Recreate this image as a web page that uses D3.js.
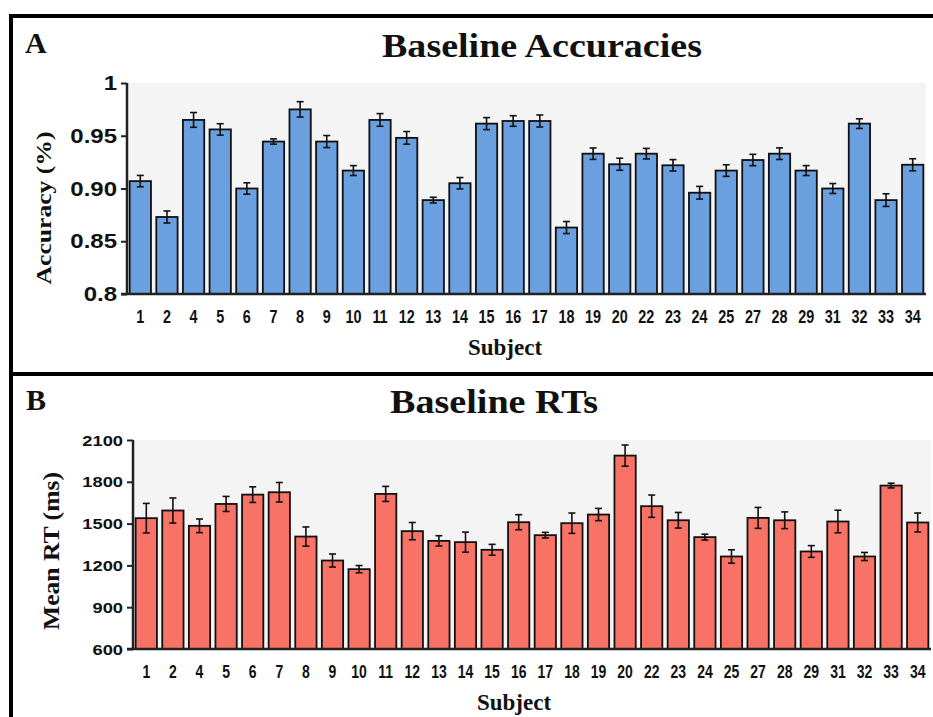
<!DOCTYPE html>
<html>
<head>
<meta charset="utf-8">
<script src="https://cdn.jsdelivr.net/npm/d3@7"></script>
<style>
  body { margin: 0; background: #fff; }
  svg { display: block; }
</style>
</head>
<body>
<div id="chart"></div>
<script>
// subjects shown on the x axis (some ids are missing in the source)
const subjects = [1, 2, 4, 5, 6, 7, 8, 9, 10, 11, 12, 13, 14, 15, 16, 17, 18, 19, 20,
  22, 23, 24, 25, 27, 28, 29, 31, 32, 33, 34];

// panel A: baseline accuracy (mean, +/- error)
const accMeans = [0.907, 0.873, 0.965, 0.956, 0.900, 0.9445, 0.975, 0.9445, 0.917, 0.965,
  0.948, 0.889, 0.905, 0.9615, 0.964, 0.964, 0.863, 0.933, 0.923, 0.933,
  0.922, 0.896, 0.917, 0.927, 0.933, 0.917, 0.900, 0.9615, 0.889, 0.9225];
const accErrors = [0.0054, 0.0057, 0.007, 0.0054, 0.0054, 0.0025, 0.0073, 0.0057, 0.0047, 0.006,
  0.006, 0.0027, 0.0054, 0.0057, 0.005, 0.0057, 0.0057, 0.0054, 0.0057, 0.005,
  0.0054, 0.006, 0.0055, 0.0054, 0.0055, 0.0047, 0.0047, 0.0046, 0.006, 0.0057];
const accTicks = [0.8, 0.85, 0.9, 0.95, 1];
const accTickLabels = ['0.8', '0.85', '0.90', '0.95', '1'];

// panel B: baseline mean RT in ms (mean, +/- error)
const rtMeans = [1539, 1594, 1484, 1641, 1708, 1725, 1407, 1235, 1173, 1713,
  1446, 1376, 1367, 1312, 1510, 1417, 1503, 1565, 1988, 1625,
  1524, 1403, 1264, 1541, 1524, 1300, 1515, 1264, 1773, 1508];
const rtErrors = [106, 90, 49, 54, 56, 70, 69, 47, 26, 54,
  62, 37, 72, 39, 54, 20, 73, 44, 76, 80,
  56, 21, 48, 75, 60, 42, 81, 29, 17, 68];
const rtTicks = [600, 900, 1200, 1500, 1800, 2100];
const rtTickLabels = ['600', '900', '1200', '1500', '1800', '2100'];

const width = 933;
const height = 717;
const serif = '"Liberation Serif", "DejaVu Serif", serif';
const sans = '"Liberation Sans", Arial, sans-serif';

const svg = d3.select('#chart')
  .append('svg')
  .attr('width', width)
  .attr('height', height);

svg.append('rect')
  .attr('width', width)
  .attr('height', height)
  .attr('fill', '#fff');

// frame lines around the two panels
svg.append('line')
  .attr('x1', 9).attr('x2', width)
  .attr('y1', 16).attr('y2', 16)
  .attr('stroke', '#000').attr('stroke-width', 4);
svg.append('line')
  .attr('x1', 9).attr('x2', width)
  .attr('y1', 374).attr('y2', 374)
  .attr('stroke', '#000').attr('stroke-width', 4);
svg.append('line')
  .attr('x1', 11).attr('x2', 11)
  .attr('y1', 14).attr('y2', height)
  .attr('stroke', '#000').attr('stroke-width', 4);

// text squeezed or widened horizontally, like the source raster
function stretchedText(parent, x, y, str, opts) {
  return parent.append('text')
    .attr('transform', `translate(${x},${y}) scale(${opts.sx || 1},1)`)
    .attr('text-anchor', opts.anchor || 'middle')
    .attr('font-family', opts.family || sans)
    .attr('font-weight', 'bold')
    .attr('font-size', opts.size)
    .attr('fill', '#111')
    .text(str);
}

function drawPanel(p) {
  const g = svg.append('g');

  const x = d3.scaleBand()
    .domain(subjects)
    .range(p.xRange)
    .paddingInner(0.2)
    .paddingOuter(0.1);

  const y = d3.scaleLinear()
    .domain(p.domain)
    .range(p.yRange);

  // panel letter and title
  g.append('text')
    .attr('x', p.letterX).attr('y', p.letterY)
    .attr('font-family', serif).attr('font-weight', 'bold')
    .attr('font-size', 30).attr('fill', '#111')
    .text(p.letter);

  g.append('text')
    .attr('x', p.titleX).attr('y', p.titleY)
    .attr('text-anchor', 'middle')
    .attr('font-family', serif).attr('font-weight', 'bold')
    .attr('font-size', 33).attr('fill', '#111')
    .attr('textLength', p.titleWidth)
    .attr('lengthAdjust', 'spacingAndGlyphs')
    .text(p.title);

  // plot background
  g.append('rect')
    .attr('x', p.xRange[0]).attr('y', p.yRange[1])
    .attr('width', p.xRange[1] - p.xRange[0])
    .attr('height', p.yRange[0] - p.yRange[1])
    .attr('fill', '#f4f4f4');

  // bars
  g.selectAll('.bar')
    .data(p.means)
    .enter()
    .append('rect')
    .attr('class', 'bar')
    .attr('x', (d, i) => x(subjects[i]))
    .attr('y', d => y(d))
    .attr('width', x.bandwidth())
    .attr('height', d => y(p.domain[0]) - y(d))
    .attr('fill', p.color)
    .attr('stroke', '#111')
    .attr('stroke-width', 1.8);

  // error bars
  const capHalf = 3.5;
  const err = g.selectAll('.err')
    .data(p.means)
    .enter()
    .append('g')
    .attr('class', 'err')
    .attr('stroke', '#111')
    .attr('stroke-width', 1.6);

  err.append('line')
    .attr('x1', (d, i) => x(subjects[i]) + x.bandwidth() / 2)
    .attr('x2', (d, i) => x(subjects[i]) + x.bandwidth() / 2)
    .attr('y1', (d, i) => y(d - p.errors[i]))
    .attr('y2', (d, i) => y(d + p.errors[i]));
  err.append('line')
    .attr('x1', (d, i) => x(subjects[i]) + x.bandwidth() / 2 - capHalf)
    .attr('x2', (d, i) => x(subjects[i]) + x.bandwidth() / 2 + capHalf)
    .attr('y1', (d, i) => y(d + p.errors[i]))
    .attr('y2', (d, i) => y(d + p.errors[i]));
  err.append('line')
    .attr('x1', (d, i) => x(subjects[i]) + x.bandwidth() / 2 - capHalf)
    .attr('x2', (d, i) => x(subjects[i]) + x.bandwidth() / 2 + capHalf)
    .attr('y1', (d, i) => y(d - p.errors[i]))
    .attr('y2', (d, i) => y(d - p.errors[i]));

  // y axis
  const yAxis = g.append('g')
    .attr('transform', `translate(${p.xRange[0]},0)`)
    .call(d3.axisLeft(y).tickValues(p.ticks).tickSize(6).tickFormat(''));
  yAxis.select('.domain')
    .attr('d', `M0,${p.yRange[0]}V${p.yRange[1]}`)
    .attr('stroke', '#222').attr('stroke-width', 2.5);
  yAxis.selectAll('.tick line').attr('stroke', '#222').attr('stroke-width', 2);

  p.ticks.forEach((t, i) => {
    stretchedText(g, p.xRange[0] - 10, y(t) + p.yTickSize * 0.36, p.tickLabels[i], {
      anchor: 'end', size: p.yTickSize, sx: p.yTickStretch,
    });
  });

  // x axis baseline
  g.append('line')
    .attr('x1', p.xRange[0] - 6).attr('x2', p.xRange[1])
    .attr('y1', p.yRange[0]).attr('y2', p.yRange[0])
    .attr('stroke', '#222').attr('stroke-width', 2.5);

  subjects.forEach(s => {
    stretchedText(g, x(s) + x.bandwidth() / 2, p.xTickY, String(s), {
      size: p.xTickSize, sx: 0.8,
    });
  });

  // axis titles
  g.append('text')
    .attr('x', p.xTitleX).attr('y', p.xTitleY)
    .attr('text-anchor', 'middle')
    .attr('font-family', serif).attr('font-weight', 'bold')
    .attr('font-size', 23).attr('fill', '#111')
    .text('Subject');

  g.append('text')
    .attr('transform', `translate(${p.yTitleX},${p.yTitleY}) rotate(-90)`)
    .attr('text-anchor', 'middle')
    .attr('font-family', serif).attr('font-weight', 'bold')
    .attr('font-size', p.yTitleSize).attr('fill', '#111')
    .attr('textLength', p.yTitleWidth)
    .attr('lengthAdjust', 'spacingAndGlyphs')
    .text(p.yTitle);
}

drawPanel({
  letter: 'A', letterX: 25, letterY: 53,
  title: 'Baseline Accuracies', titleX: 542, titleY: 57, titleWidth: 320,
  means: accMeans, errors: accErrors,
  domain: [0.8, 1], ticks: accTicks, tickLabels: accTickLabels,
  xRange: [127, 926], yRange: [294, 83],
  color: '#6a9fe0',
  yTickSize: 20, yTickStretch: 1.2, xTickSize: 18, xTickY: 323,
  xTitleX: 505, xTitleY: 355,
  yTitle: 'Accuracy (%)', yTitleX: 51, yTitleY: 208, yTitleSize: 21, yTitleWidth: 153,
});

drawPanel({
  letter: 'B', letterX: 26, letterY: 410,
  title: 'Baseline RTs', titleX: 494, titleY: 413, titleWidth: 208,
  means: rtMeans, errors: rtErrors,
  domain: [600, 2100], ticks: rtTicks, tickLabels: rtTickLabels,
  xRange: [133, 931], yRange: [649, 440],
  color: '#f87366',
  yTickSize: 15.5, yTickStretch: 1.18, xTickSize: 17.5, xTickY: 678,
  xTitleX: 514, xTitleY: 710,
  yTitle: 'Mean RT (ms)', yTitleX: 59, yTitleY: 551, yTitleSize: 23, yTitleWidth: 158,
});
</script>
</body>
</html>
